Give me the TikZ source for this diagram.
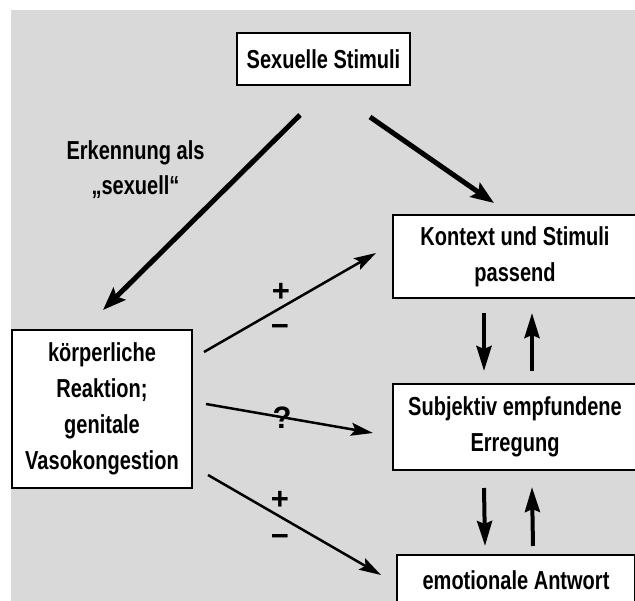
\documentclass[tikz,border=0pt]{standalone}
\usepackage{fontspec}
\newfontfamily\boxfont{Liberation Sans}[FakeStretch=0.77]
\newfontfamily\labfont{Liberation Sans}
\usetikzlibrary{arrows.meta}
\definecolor{bggray}{RGB}{217,217,217}
\begin{document}
\begin{tikzpicture}[x=1pt,y=-1pt,
  box/.style={draw=black, line width=2pt, fill=white, inner sep=0pt, align=center,
    font={\boxfont\bfseries\fontsize{26}{36}\selectfont}},
  plain/.style={inner sep=0pt, align=center, font={\boxfont\bfseries\fontsize{26}{35}\selectfont}},
  lab/.style={inner sep=0pt, font={\labfont\bfseries\fontsize{31}{31}\selectfont}},
  thickarrow/.style={line width=5pt, -{Stealth[length=23pt,width=17pt,inset=4pt]}},
  thinarrow/.style={line width=2.5pt, -{Stealth[length=22pt,width=13pt,inset=4pt]}},
  vertarrow/.style={line width=4pt, -{Stealth[length=25pt,width=15pt,inset=3pt]}}]
\clip (0,0) rectangle (635,601);
\fill[white] (0,0) rectangle (635,601);
\fill[bggray] (11,10) rectangle (635,601);
% boxes
\node[box, minimum width=173pt, minimum height=52pt] (stim) at (323.5,59) {Sexuelle Stimuli};
\node[box, minimum width=244pt, minimum height=83pt] (kontext) at (515,256.5) {Kontext und Stimuli\\passend};
\node[box, minimum width=244pt, minimum height=86pt] (subj) at (515,427) {Subjektiv empfundene\\Erregung};
\node[box, minimum width=238pt, minimum height=50pt] (emo) at (516,580) {emotionale Antwort};
\node[box, minimum width=180pt, minimum height=158pt] (koerper) at (102,409) {körperliche\\Reaktion;\\genitale\\Vasokongestion};
\node[plain] (erk) at (135.5,169.5) {Erkennung als\\„sexuell“};
% connector end points
\coordinate (t1s) at (300,115); \coordinate (t1e) at (103,310);
\coordinate (t2s) at (370,117); \coordinate (t2e) at (494,203);
\coordinate (a1s) at (204,352); \coordinate (a1e) at (376,253);
\coordinate (a2s) at (206,404); \coordinate (a2e) at (373,433);
\coordinate (a3s) at (208,475); \coordinate (a3e) at (381,575);
\coordinate (d1s) at ([shift={(-31,14)}]kontext.south);
\coordinate (d1e) at ([shift={(-31,-12)}]subj.north);
\coordinate (u1s) at ([shift={(17,-12)}]subj.north);
\coordinate (u1e) at ([shift={(17,14)}]kontext.south);
\coordinate (d2s) at ([shift={(-31,17)}]subj.south);
\coordinate (d2e) at ([shift={(-31,-8)}]emo.north);
\coordinate (u2s) at ([shift={(17,-8)}]emo.north);
\coordinate (u2e) at ([shift={(17,16)}]subj.south);
% arrows
\draw[thickarrow] (t1s) -- (t1e);
\draw[thickarrow] (t2s) -- (t2e);
\draw[thinarrow] (a1s) -- (a1e);
\draw[thinarrow] (a2s) -- (a2e);
\draw[thinarrow] (a3s) -- (a3e);
\draw[vertarrow] (d1s) -- (d1e);
\draw[vertarrow] (u1s) -- (u1e);
\draw[vertarrow] (d2s) -- (d2e);
\draw[vertarrow] (u2s) -- (u2e);
% labels
\node[lab] (p1) at (281,292) {+};
\node[lab] (m1) at (280,331) {−};
\node[lab] (q) at (282,418) {?};
\node[lab] (p2) at (280,500) {+};
\node[lab] (m2) at (280,540) {−};
\end{tikzpicture}
\end{document}
